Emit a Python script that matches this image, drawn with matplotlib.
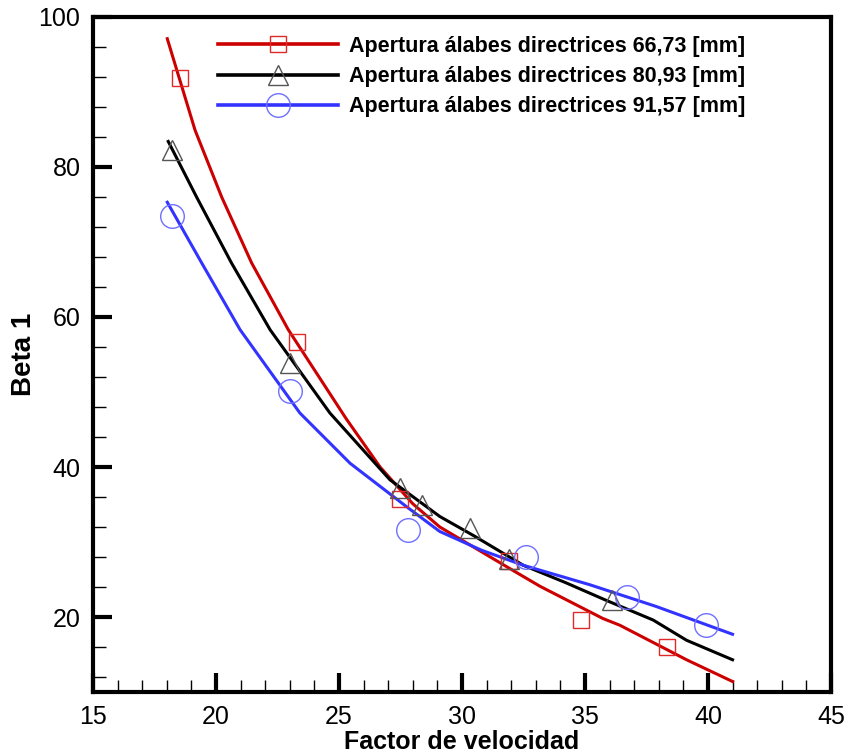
import matplotlib
matplotlib.use("Agg")
import matplotlib.pyplot as plt
from matplotlib.lines import Line2D
from matplotlib.ticker import MultipleLocator

plt.rcParams["font.family"] = ["Liberation Sans", "DejaVu Sans"]

labels = [
    "Apertura álabes directrices 66,73 [mm]",
    "Apertura álabes directrices 80,93 [mm]",
    "Apertura álabes directrices 91,57 [mm]",
]

# measured points
x_666 = [18.54, 23.29, 27.48, 31.90, 34.82, 38.32]
y_666 = [91.9, 56.7, 35.7, 27.5, 19.6, 16.0]
x_809 = [18.20, 23.00, 27.48, 28.37, 30.33, 31.90, 36.08]
y_809 = [82.2, 53.9, 37.2, 34.9, 31.9, 27.7, 22.3]
x_915 = [18.20, 23.00, 27.80, 32.60, 36.70, 39.92]
y_915 = [73.5, 50.1, 31.6, 28.0, 22.7, 18.9]

# fitted curves
cx_666 = [18.02, 19.15, 20.23, 21.45, 22.94, 25.30, 26.67, 28.00, 29.10, 31.82, 33.17, 35.73, 36.42, 39.13, 41.00]
cy_666 = [97.1, 84.9, 76.0, 67.2, 58.3, 46.4, 40.0, 35.1, 32.0, 26.7, 24.1, 19.8, 18.9, 14.3, 11.4]
cx_809 = [18.06, 19.21, 20.63, 22.20, 24.63, 27.07, 29.10, 30.50, 32.49, 34.20, 35.88, 37.77, 39.13, 41.00]
cy_809 = [83.4, 76.0, 67.2, 58.3, 47.2, 38.3, 33.4, 30.8, 26.9, 24.6, 22.2, 19.6, 16.9, 14.3]
cx_915 = [18.02, 19.42, 20.98, 23.41, 25.45, 27.75, 29.10, 30.80, 32.49, 35.20, 37.90, 41.00]
cy_915 = [75.3, 67.2, 58.3, 47.2, 40.5, 34.7, 31.4, 28.9, 26.9, 24.3, 21.4, 17.7]

line_colors = ["#cc0000", "#000000", "#3333ff"]
mk_colors = ["#e02a2a", "#555555", "#6f6fff"]

fig = plt.figure(figsize=(8.5, 7.54), dpi=100)
ax = fig.add_axes([0.1094, 0.0822, 0.8682, 0.8953])

ax.plot(cx_666, cy_666, color=line_colors[0], lw=2.2, zorder=3)
ax.plot(cx_809, cy_809, color=line_colors[1], lw=2.2, zorder=3)
ax.plot(cx_915, cy_915, color=line_colors[2], lw=2.2, zorder=3)

ax.plot(x_666, y_666, ls="none", marker="s", ms=12, mfc="none", mec=mk_colors[0], mew=1.0, zorder=4)
ax.plot(x_809, y_809, ls="none", marker="^", ms=15, mfc="none", mec=mk_colors[1], mew=1.0, zorder=4)
ax.plot(x_915, y_915, ls="none", marker="o", ms=17, mfc="none", mec=mk_colors[2], mew=1.0, zorder=4)

ax.set_xlim(15, 45)
ax.set_ylim(10, 100)
ax.xaxis.set_major_locator(MultipleLocator(5))
ax.xaxis.set_minor_locator(MultipleLocator(1))
ax.yaxis.set_minor_locator(MultipleLocator(4))
ax.set_yticks([20, 40, 60, 80, 100])

for s in ax.spines.values():
    s.set_linewidth(3.0)
ax.tick_params(which="major", direction="in", length=14, width=3, labelsize=18, pad=9)
ax.tick_params(which="minor", direction="in", length=9, width=1)
ax.tick_params(top=False, right=False, which="both")

ax.set_xlabel("Factor de velocidad", fontsize=18, fontweight="bold", labelpad=1)
ax.set_ylabel("Beta 1", fontsize=20, fontweight="bold", labelpad=1)

handles = [
    Line2D([], [], color=line_colors[0], lw=2.6, marker="s", ms=12, mfc="none", mec=mk_colors[0], mew=1.0),
    Line2D([], [], color=line_colors[1], lw=2.6, marker="^", ms=15, mfc="none", mec=mk_colors[1], mew=1.0),
    Line2D([], [], color=line_colors[2], lw=2.6, marker="o", ms=17, mfc="none", mec=mk_colors[2], mew=1.0),
]
ax.legend(handles, labels, loc="upper left", bbox_to_anchor=(0.169, 0.972), frameon=False,
          numpoints=1, handlelength=5.6, handletextpad=0.5, labelspacing=0.43,
          borderpad=0, borderaxespad=0, prop={"size": 15.5, "weight": "bold"})

fig.savefig("out.png", dpi=100)
